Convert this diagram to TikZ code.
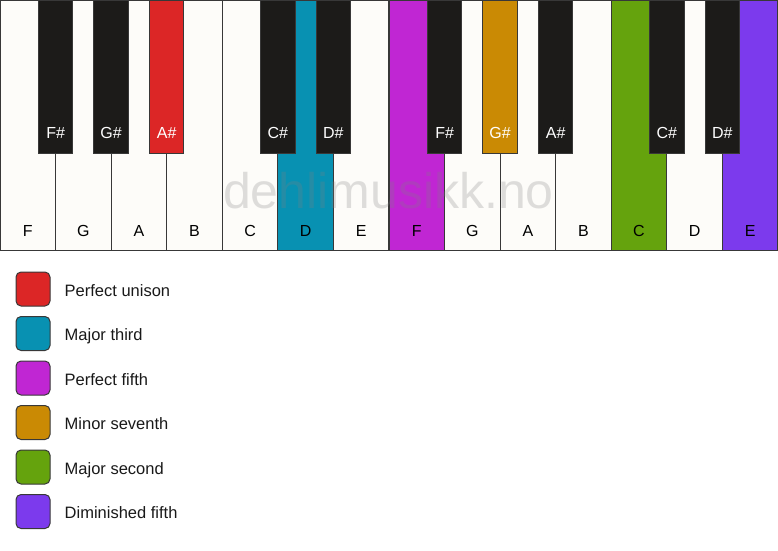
\documentclass[tikz,border=0pt]{standalone}
\usepackage{fontspec}
\setmainfont{Liberation Sans}
\usetikzlibrary{positioning}

\definecolor{keywhite}{HTML}{FDFCF9}
\definecolor{keyblack}{HTML}{1C1B19}
\definecolor{keyline}{HTML}{383838}
\definecolor{unison}{HTML}{DC2626}
\definecolor{third}{HTML}{0891B2}
\definecolor{fifth}{HTML}{C026D3}
\definecolor{seventh}{HTML}{CA8A04}
\definecolor{second}{HTML}{65A30D}
\definecolor{dimfifth}{HTML}{7C3AED}

\tikzset{
  whitekey/.style={draw=keyline, line width=1pt, fill=keywhite, minimum width=55.57pt, minimum height=250pt, inner sep=0pt,
    label={[anchor=base, yshift=14pt, font=\fontsize{16}{19}\selectfont]south:#1}},
  blackkey/.style={draw=keyline, line width=1pt, fill=keyblack, minimum width=34.5pt, minimum height=153pt, inner sep=0pt,
    label={[anchor=base, yshift=15pt, text=white, font=\fontsize{16}{19}\selectfont]south:#1}},
  swatch/.style={draw=keyline, line width=1pt, rounded corners=5pt, minimum size=34pt, inner sep=0pt},
  legendtext/.style={inner sep=0pt, text height=14pt, text depth=0pt, text=black!90, font=\fontsize{16.5}{19}\selectfont}
}

\begin{document}
\begin{tikzpicture}[x=1pt, y=1pt]
\useasboundingbox (0,0) rectangle (778,-550);
% white keys
\node[whitekey=F]              (w1)  at (27.8, -125)  {};
\node[whitekey=G]              (w2)  at (83.4, -125)  {};
\node[whitekey=A]              (w3)  at (138.9, -125) {};
\node[whitekey=B]              (w4)  at (194.5, -125) {};
\node[whitekey=C]              (w5)  at (250.1, -125) {};
\node[whitekey=D, fill=third]  (w6)  at (305.6, -125) {};
\node[whitekey=E]              (w7)  at (361.2, -125) {};
\node[whitekey=F, fill=fifth]  (w8)  at (416.8, -125) {};
\node[whitekey=G]              (w9)  at (472.3, -125) {};
\node[whitekey=A]              (w10) at (527.9, -125) {};
\node[whitekey=B]              (w11) at (583.5, -125) {};
\node[whitekey=C, fill=second] (w12) at (639.0, -125) {};
\node[whitekey=D]              (w13) at (694.6, -125) {};
\node[whitekey=E, fill=dimfifth] (w14) at (750.2, -125) {};
% black keys
\node[blackkey=F\#]               (b1)  at (55.6, -76.5)  {};
\node[blackkey=G\#]               (b2)  at (111.1, -76.5) {};
\node[blackkey=A\#, fill=unison]  (b3)  at (166.7, -76.5) {};
\node[blackkey=C\#]               (b4)  at (277.9, -76.5) {};
\node[blackkey=D\#]               (b5)  at (333.4, -76.5) {};
\node[blackkey=F\#]               (b6)  at (444.6, -76.5) {};
\node[blackkey=G\#, fill=seventh] (b7)  at (500.1, -76.5) {};
\node[blackkey=A\#]               (b8)  at (555.7, -76.5) {};
\node[blackkey=C\#]               (b9)  at (666.9, -76.5) {};
\node[blackkey=D\#]               (b10) at (722.4, -76.5) {};
% watermark
\node[anchor=base, inner sep=0pt, text=gray, opacity=0.25, font=\fontsize{50}{60}\selectfont] (wm) at (388.5, -208) {dehlimusikk.no};
% legend
\node[swatch, fill=unison]   (lu) at (33, -289)   {};
\node[swatch, fill=third]    (lt) at (33, -333.5) {};
\node[swatch, fill=fifth]    (lf) at (33, -378)   {};
\node[swatch, fill=seventh]  (ls) at (33, -422.5) {};
\node[swatch, fill=second]   (lm) at (33, -467)   {};
\node[swatch, fill=dimfifth] (ld) at (33, -511.5) {};
\node[legendtext, right=14pt of lu] (tu) {Perfect unison};
\node[legendtext, right=14pt of lt] (tt) {Major third};
\node[legendtext, right=14pt of lf] (tf) {Perfect fifth};
\node[legendtext, right=14pt of ls] (ts) {Minor seventh};
\node[legendtext, right=14pt of lm] (tm) {Major second};
\node[legendtext, right=14pt of ld] (td) {Diminished fifth};
\end{tikzpicture}
\end{document}
